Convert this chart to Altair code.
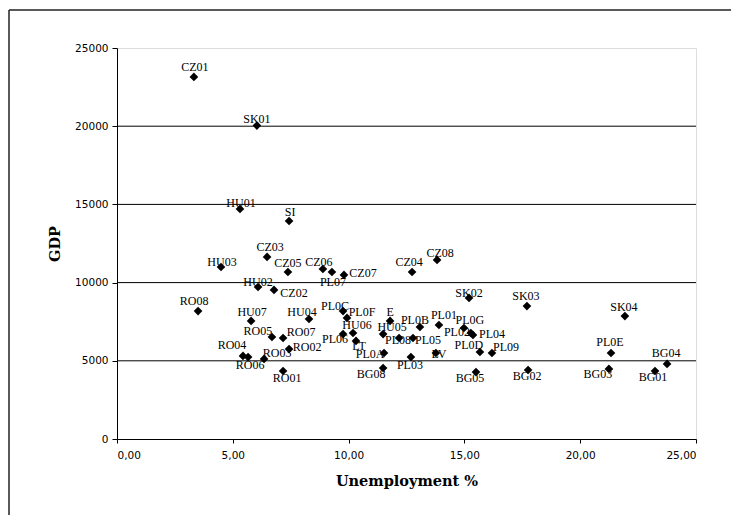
import altair as alt
import pandas as pd

regions = ["CZ01", "SK01", "HU01", "SI", "CZ03", "HU03", "CZ05", "CZ06", "PL07", "CZ07",
           "HU02", "CZ02", "RO08", "HU07", "HU04", "RO05", "RO07", "RO02", "RO04", "RO06",
           "RO03", "RO01", "PL0C", "PL0F", "HU06", "PL06", "LT", "E", "HU05", "PL0B",
           "PL01", "PL08", "PL05", "PL0A", "PL03", "LV", "BG08", "CZ04", "CZ08", "SK02",
           "PL0G", "PL02", "PL04", "PL0D", "PL09", "BG05", "SK03", "BG02", "SK04", "PL0E",
           "BG03", "BG01", "BG04"]
unemployment = [3.32, 6.04, 5.31, 7.43, 6.48, 4.49, 7.38, 8.89, 9.28, 9.80,
                6.09, 6.78, 3.50, 5.79, 8.29, 6.69, 7.17, 7.43, 5.44, 5.66,
                6.35, 7.17, 9.76, 9.93, 10.19, 9.76, 10.32, 11.79, 11.49, 13.08,
                13.90, 12.18, 12.78, 11.53, 12.69, 13.77, 11.49, 12.74, 13.82, 15.20,
                14.98, 15.28, 15.37, 15.67, 16.19, 15.50, 17.70, 17.75, 21.93, 21.33,
                21.24, 23.23, 23.75]
gdp = [23150, 20040, 14710, 13940, 11640, 11000, 10680, 10870, 10680, 10490,
       9720, 9530, 8180, 7550, 7670, 6520, 6460, 5750, 5310, 5240,
       5120, 4350, 8180, 7740, 6780, 6710, 6270, 7550, 6710, 7160,
       7290, 6460, 6460, 5500, 5240, 5500, 4540, 10680, 11450, 9020,
       7100, 6780, 6650, 5560, 5500, 4280, 8500, 4410, 7860, 5500,
       4480, 4350, 4800]

# label placement relative to each marker (pixels)
label_dx = [1, 0, 1, 1, 3, 1, 0, -4, 1, 19,
            0, 20, -4, 1, -7, -14, 18, 18, -11, 2,
            13, 4, -8, 15, 4, -8, 3, 0, 9, -5,
            5, -1, 15, -14, -1, 3, -12, -3, 3, 0,
            6, -14, 19, -11, 14, -6, -1, -1, -1, -1,
            -11, -2, -1]
label_dy = [-10, -7, -6, -9, -10, -5, -9, -7, 10, -2,
            -5, 3, -10, -9, -7, -6, -6, -2, -11, 8,
            -6, 7, -5, -6, -8, 5, 5, -9, -7, -7,
            -10, 2, 2, 1, 8, 1, 6, -10, -7, -5,
            -8, -1, -1, -7, -6, 6, -10, 6, -9, -11,
            5, 6, -11]

grid_levels = [5000, 10000, 15000, 20000]
x_ticks = [0, 5, 10, 15, 20, 25]
y_ticks = [0, 5000, 10000, 15000, 20000, 25000]

W, H = 579, 391
X_MAX, Y_MAX = 25, 25000

df = pd.DataFrame({"region": regions, "u": unemployment, "gdp": gdp,
                   "dx": label_dx, "dy": label_dy})

xscale = alt.Scale(domain=[0, X_MAX], nice=False, zero=True)
yscale = alt.Scale(domain=[0, Y_MAX], nice=False)

x_axis = alt.Axis(values=x_ticks,
                  labelExpr="replace(format(datum.value, '.2f'), '.', ',')",
                  grid=False, domainColor="black", tickColor="black",
                  tickSize=4, labelPadding=7, labelFont="DejaVu Sans",
                  labelFontSize=10.5, labelColor="black",
                  titleFont="DejaVu Serif", titleFontSize=14.5,
                  titleFontWeight="bold", titleColor="black", titlePadding=14)
y_axis = alt.Axis(values=y_ticks, format="d", grid=False,
                  domainColor="black", tickColor="black", tickSize=5,
                  labelPadding=4, labelFont="DejaVu Sans",
                  labelFontSize=10.5, labelColor="black",
                  titleFont="DejaVu Serif", titleFontSize=14.5,
                  titleFontWeight="bold", titleColor="black", titlePadding=12)

grid = alt.Chart(pd.DataFrame({"g": grid_levels})).mark_rule(
    color="black", strokeWidth=1
).encode(y=alt.Y("g:Q", scale=yscale, axis=y_axis, title="GDP"))

points = alt.Chart(df).mark_point(
    shape="diamond", filled=True, color="black", size=75, opacity=1
).encode(
    x=alt.X("u:Q", scale=xscale, title="Unemployment %", axis=x_axis),
    y=alt.Y("gdp:Q", scale=yscale, title="GDP", axis=y_axis),
)

labels = alt.Chart(df).transform_calculate(
    lx=f"datum.u + datum.dx * {X_MAX} / {W}",
    ly=f"datum.gdp - datum.dy * {Y_MAX} / {H}",
).mark_text(
    font="Liberation Serif", fontSize=12, color="black",
    align="center", baseline="middle"
).encode(
    x=alt.X("lx:Q", scale=xscale, axis=x_axis, title="Unemployment %"),
    y=alt.Y("ly:Q", scale=yscale, axis=y_axis, title="GDP"),
    text="region:N",
)

one = pd.DataFrame({"a": [0]})
border_left = alt.Chart(one).mark_rule(color="#222", strokeWidth=1.5).encode(
    x=alt.value(-108), y=alt.value(-38), y2=alt.value(474))
border_top = alt.Chart(one).mark_rule(color="#222", strokeWidth=1.5).encode(
    x=alt.value(-108), x2=alt.value(614), y=alt.value(-38))

chart = alt.layer(grid, points, labels, border_left, border_top).properties(
    width=W, height=H,
    padding={"left": 109, "top": 40, "right": 36, "bottom": 76},
    autosize=alt.AutoSizeParams(type="none"),
).configure_view(strokeWidth=0).configure(background="white")

chart.save("out.html", embed_options={"renderer": "svg", "actions": False})
